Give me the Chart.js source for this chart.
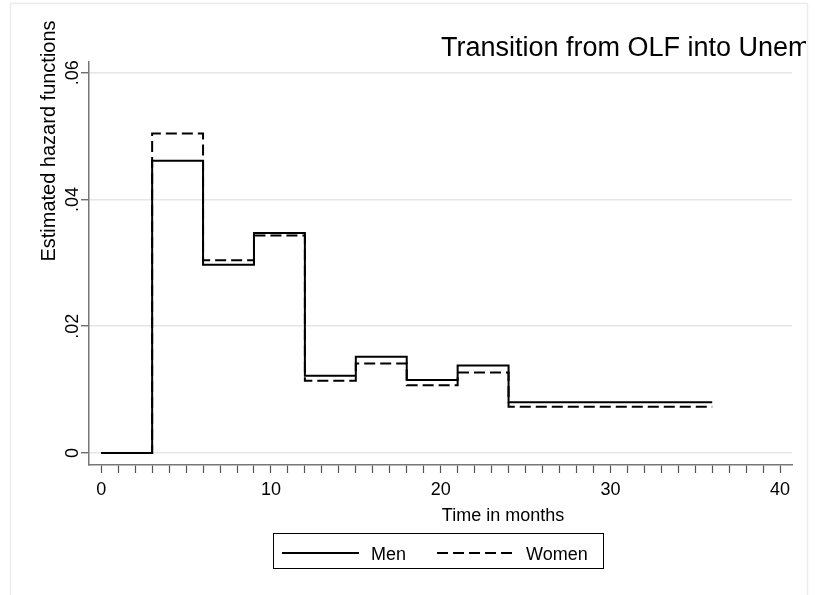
<!DOCTYPE html>
<html>
<head>
<meta charset="utf-8">
<script src="https://cdn.jsdelivr.net/npm/chart.js@4/dist/chart.umd.min.js"></script>
<style>
  body { margin: 0; background: #fff; }
  #wrap { width: 815px; height: 595px; }
</style>
</head>
<body>
<div id="wrap"><canvas id="hazardChart" width="815" height="595"></canvas></div>
<script>
// --- data ---
const months = [0, 3, 6, 9, 12, 15, 18, 21, 24, 36];
const menHazard = [0, 0.0461, 0.0297, 0.0347, 0.0122, 0.0152, 0.0115, 0.0138, 0.0080, 0.0080];
const womenHazard = [0, 0.0504, 0.0304, 0.0343, 0.0114, 0.0141, 0.0107, 0.0127, 0.0073, 0.0073];

const xMajorTicks = [0, 10, 20, 30, 40];
const yTickValues = [0, 0.02, 0.04, 0.06];
const yTickLabels = ['0', '.02', '.04', '.06'];

const seriesNames = ['Men', 'Women'];
const chartTitle = 'Transition from OLF into Unem';
const xTitle = 'Time in months';
const yTitle = 'Estimated hazard functions';

const FONT = 'Arial, "Liberation Sans", sans-serif';

// minor ticks every month between the labelled ones
const xTicks = [];
for (let m = xMajorTicks[0]; m <= xMajorTicks[xMajorTicks.length - 1]; m++) xTicks.push(m);

const toPoints = (ys) => months.map((x, i) => ({ x: x, y: ys[i] }));

// --- titles, legend and outer frame (Stata style) ---
const stataDecor = {
    id: 'stataDecor',
    beforeDraw(chart) {
        const ctx = chart.ctx;
        ctx.save();
        ctx.strokeStyle = '#ececec';
        ctx.lineWidth = 1.5;
        ctx.beginPath();
        ctx.moveTo(10.5, 600); ctx.lineTo(10.5, 3.5); ctx.lineTo(807.5, 3.5); ctx.lineTo(807.5, 600);
        ctx.stroke();
        ctx.restore();
    },
    afterDraw(chart) {
        const ctx = chart.ctx;
        ctx.save();
        ctx.fillStyle = '#000';

        // main title, clipped by the graph region like the original
        ctx.save();
        ctx.beginPath();
        ctx.rect(0, 0, 806, 595);
        ctx.clip();
        ctx.font = '27px ' + FONT;
        ctx.textAlign = 'left';
        ctx.textBaseline = 'alphabetic';
        ctx.fillText(chartTitle, 441, 56);
        ctx.restore();

        // x title
        ctx.font = '18px ' + FONT;
        ctx.textAlign = 'center';
        ctx.fillText(xTitle, 503, 521);

        // y title
        ctx.save();
        ctx.translate(55, 141);
        ctx.rotate(-Math.PI / 2);
        ctx.font = '20px ' + FONT;
        ctx.fillText(yTitle, 0, 0);
        ctx.restore();

        // legend
        ctx.strokeStyle = '#000';
        ctx.lineWidth = 1;
        ctx.strokeRect(273.5, 533.5, 330, 35);
        const items = [
            { x0: 282, x1: 359, tx: 371 },
            { x0: 437, x1: 515, tx: 526 }
        ];
        chart.data.datasets.forEach((ds, i) => {
            const it = items[i];
            ctx.save();
            ctx.strokeStyle = ds.borderColor;
            ctx.lineWidth = ds.borderWidth;
            ctx.setLineDash(ds.borderDash || []);
            ctx.beginPath();
            ctx.moveTo(it.x0, 553);
            ctx.lineTo(it.x1, 553);
            ctx.stroke();
            ctx.restore();
            ctx.font = '18px ' + FONT;
            ctx.textAlign = 'left';
            ctx.fillText(ds.label, it.tx, 560);
        });
        ctx.restore();
    }
};

const ctx = document.getElementById('hazardChart').getContext('2d');
new Chart(ctx, {
    type: 'line',
    data: {
        datasets: [
            {
                label: seriesNames[0],
                data: toPoints(menHazard),
                borderColor: '#000',
                borderWidth: 2,
                stepped: true,
                pointRadius: 0,
                fill: false,
                borderJoinStyle: 'miter',
                borderCapStyle: 'butt'
            },
            {
                label: seriesNames[1],
                data: toPoints(womenHazard),
                borderColor: '#000',
                borderWidth: 2,
                borderDash: [11, 5],
                stepped: true,
                pointRadius: 0,
                fill: false,
                borderJoinStyle: 'miter',
                borderCapStyle: 'butt'
            }
        ]
    },
    options: {
        responsive: false,
        animation: false,
        devicePixelRatio: 1,
        layout: { padding: { left: 0, top: 62, right: 23, bottom: 90 } },
        plugins: {
            legend: { display: false },
            title: { display: false },
            tooltip: { enabled: false }
        },
        scales: {
            x: {
                type: 'linear',
                min: -0.72,
                max: 40.7,
                afterBuildTicks: (scale) => { scale.ticks = xTicks.map(v => ({ value: v })); },
                afterFit: (scale) => { scale.height = 40; },
                ticks: {
                    autoSkip: false,
                    maxRotation: 0,
                    color: '#000',
                    font: { family: FONT, size: 18 },
                    padding: 6,
                    callback: (v) => xMajorTicks.includes(v) ? String(v) : ''
                },
                grid: {
                    drawOnChartArea: false,
                    drawTicks: true,
                    tickLength: 8,
                    tickColor: '#555',
                    tickWidth: 1.2
                },
                border: { display: true, color: '#777', width: 1.5 }
            },
            y: {
                type: 'linear',
                min: -0.0019,
                max: 0.0617,
                afterBuildTicks: (scale) => { scale.ticks = yTickValues.map(v => ({ value: v })); },
                afterFit: (scale) => { scale.width = 89; },
                ticks: {
                    minRotation: 90,
                    maxRotation: 90,
                    crossAlign: 'center',
                    color: '#000',
                    font: { family: FONT, size: 18 },
                    padding: -5,
                    callback: (v) => {
                        const i = yTickValues.indexOf(v);
                        return i >= 0 ? yTickLabels[i] : '';
                    }
                },
                grid: {
                    color: '#e6e6e6',
                    lineWidth: 1.5,
                    tickLength: 8,
                    tickColor: '#555',
                    tickWidth: 1.2
                },
                border: { display: true, color: '#777', width: 1.5 }
            }
        }
    },
    plugins: [stataDecor]
});
</script>
</body>
</html>
